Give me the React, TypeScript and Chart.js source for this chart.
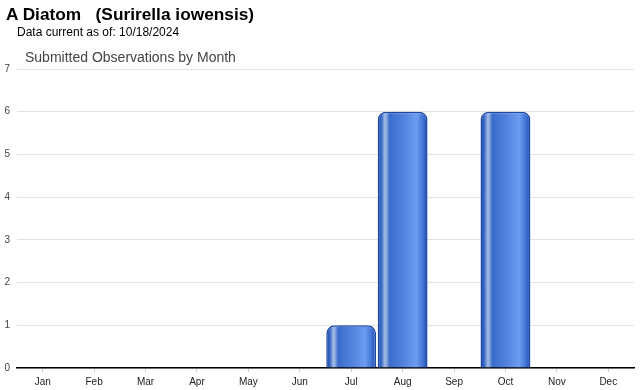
import React, { useEffect, useRef } from "react";
import { Chart, registerables } from "chart.js";

Chart.register(...registerables);

const months = ["Jan", "Feb", "Mar", "Apr", "May", "Jun", "Jul", "Aug", "Sep", "Oct", "Nov", "Dec"];
const observations = [0, 0, 0, 0, 0, 0, 1, 6, 0, 6, 0, 0];
const yMax = 7;

const titleText = "A Diatom   (Surirella iowensis)";
const subtitleText = "Data current as of: 10/18/2024";
const chartTitle = "Submitted Observations by Month";

export default function App() {
  const ref = useRef<HTMLCanvasElement | null>(null);

  useEffect(() => {
    if (!ref.current) return;
    const barPct = 0.97;
    const chart = new Chart(ref.current, {
      type: "bar",
      data: {
        labels: months,
        datasets: [
          {
            data: observations,
            backgroundColor: (c: any) => {
              const ch = c.chart;
              const xs = ch.scales?.x;
              if (!ch.chartArea || !xs || c.dataIndex === undefined) return "#3d6fcc";
              const center = xs.getPixelForValue(c.dataIndex);
              const w = (ch.chartArea.width / months.length) * barPct;
              const l = center - w / 2;
              const g = ch.ctx.createLinearGradient(l, 0, l + w, 0);
              g.addColorStop(0, "#1a48a8");
              g.addColorStop(0.07, "#3566c4");
              g.addColorStop(0.15, "#a9c0e6");
              g.addColorStop(0.24, "#3a6ccb");
              g.addColorStop(0.5, "#5081dd");
              g.addColorStop(0.78, "#6c9cf0");
              g.addColorStop(0.92, "#3d6fd0");
              g.addColorStop(1, "#1a48a8");
              return g;
            },
            borderColor: "#1a47a3",
            borderWidth: 1.5,
            borderSkipped: "bottom",
            borderRadius: { topLeft: 8, topRight: 8, bottomLeft: 0, bottomRight: 0 },
            categoryPercentage: 1,
            barPercentage: barPct,
          },
        ],
      },
      options: {
        animation: false,
        responsive: false,
        maintainAspectRatio: false,
        layout: { padding: { top: 69, right: 6, left: 0, bottom: 0 } },
        plugins: { legend: { display: false }, tooltip: { enabled: false }, title: { display: false } },
        scales: {
          x: {
            afterFit: (s: any) => {
              s.height = 22;
            },
            grid: {
              offset: false,
              drawOnChartArea: false,
              drawTicks: true,
              tickLength: 4,
              color: "#cccccc",
            },
            border: { display: true, color: "#000000", width: 1.5 },
            ticks: {
              padding: 4,
              color: "#222222",
              font: { family: "Arial, 'Liberation Sans', sans-serif", size: 10 },
              maxRotation: 0,
              autoSkip: false,
            },
          },
          y: {
            min: 0,
            max: yMax,
            afterFit: (s: any) => {
              s.width = 17;
            },
            grid: { color: "#e2e2e2", drawTicks: false, lineWidth: 1 },
            border: { display: false },
            ticks: {
              stepSize: 1,
              padding: 7,
              color: "#444444",
              font: { family: "Arial, 'Liberation Sans', sans-serif", size: 10 },
            },
          },
        },
      },
    });
    return () => chart.destroy();
  }, []);

  return (
    <div style={{ position: "fixed", left: 0, top: 0, width: 640, height: 390, background: "#fff", fontFamily: "Arial, 'Liberation Sans', sans-serif" }}>
      <canvas ref={ref} width={640} height={390} style={{ position: "absolute", left: 0, top: 0, width: 640, height: 390 }} />
      <div style={{ position: "absolute", left: 6, top: 4, fontSize: 17.3, fontWeight: "bold", color: "#000", whiteSpace: "pre", lineHeight: "20px" }}>
        {titleText}
      </div>
      <div style={{ position: "absolute", left: 17, top: 25, fontSize: 12, color: "#000", whiteSpace: "pre", lineHeight: "14px" }}>
        {subtitleText}
      </div>
      <div style={{ position: "absolute", left: 25, top: 49, fontSize: 14, color: "#444", whiteSpace: "pre", lineHeight: "16px" }}>
        {chartTitle}
      </div>
    </div>
  );
}
